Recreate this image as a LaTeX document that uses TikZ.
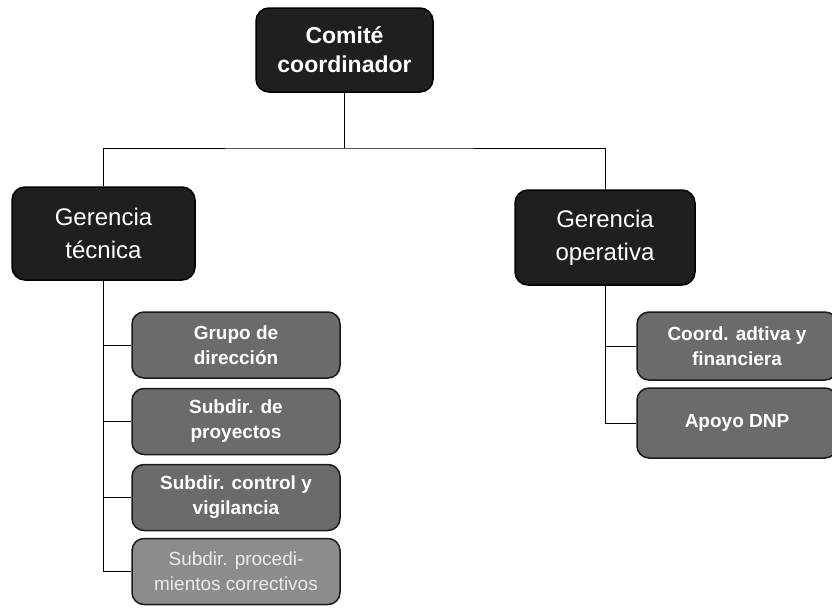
\documentclass[tikz,border=0pt]{standalone}
\usepackage{fontspec}
\setmainfont{Liberation Sans}
\usetikzlibrary{positioning,calc}

\tikzset{
  jefe/.style={draw=black, line width=1.5pt, rounded corners=13pt, fill=black!88, text=white, align=center, inner sep=0pt},
  grupo/.style={draw=black!90, line width=1.5pt, rounded corners=12pt, fill=black!58, text=white, align=center, inner sep=0pt,
    minimum height=66pt, font=\fontsize{19}{25}\selectfont\bfseries},
  enlace/.style={line width=1pt, black}
}

\begin{document}
\begin{tikzpicture}[x=1pt,y=-1pt]
		\useasboundingbox (0,0) rectangle (832,608);
		
		% Top level
		\node[jefe, minimum width=177pt, minimum height=84pt, font=\fontsize{23}{29}\selectfont\bfseries] (comite) at (344.5,50) {Comité\\coordinador};
		
		% Gerencias
		\node[jefe, minimum width=183pt, minimum height=93pt, font=\fontsize{24}{33}\selectfont] (tecnica) at (103.5,233.5) {Gerencia\\técnica};
		\node[jefe, minimum width=180pt, minimum height=95pt, font=\fontsize{24}{33}\selectfont] (operativa) at (605,237.5) {Gerencia\\operativa};
		
		% Technical units
		\node[grupo, minimum width=208pt] (t1) at (236,345) {Grupo de\\dirección};
		\node[grupo, minimum width=208pt] (t2) at (236,421.5) {Subdir. de\\proyectos};
		\node[grupo, minimum width=208pt] (t3) at (236,497.5) {Subdir. control y\\vigilancia};
		\node[grupo, minimum width=208pt, fill=black!45, text=black!8, font=\fontsize{19}{25}\selectfont] (t4) at (236,571.5) {Subdir. procedi-\\mientos correctivos};
		
		% Operative units
		\node[grupo, minimum width=200pt, minimum height=68pt] (o1) at (737,346) {Coord. adtiva y\\financiera};
		\node[grupo, minimum width=200pt, minimum height=70pt] (o2) at (737,423) {Apoyo DNP};
		
		% Tree lines
		\coordinate (bus) at (344.5,148);
		\draw[enlace] (comite.south) -- (bus);
		\draw[enlace] (tecnica.north) |- (bus) -| (operativa.north);
		
		\draw[enlace] (tecnica.south) |- (t4.west);
		\foreach \i in {1,2,3} {
			\draw[enlace] (t\i.west) -- (t\i.west -| tecnica.south);
		}
		
		\draw[enlace] (operativa.south) |- (o2.west);
		\draw[enlace] (o1.west) -- (o1.west -| operativa.south);
	\end{tikzpicture}
\end{document}
